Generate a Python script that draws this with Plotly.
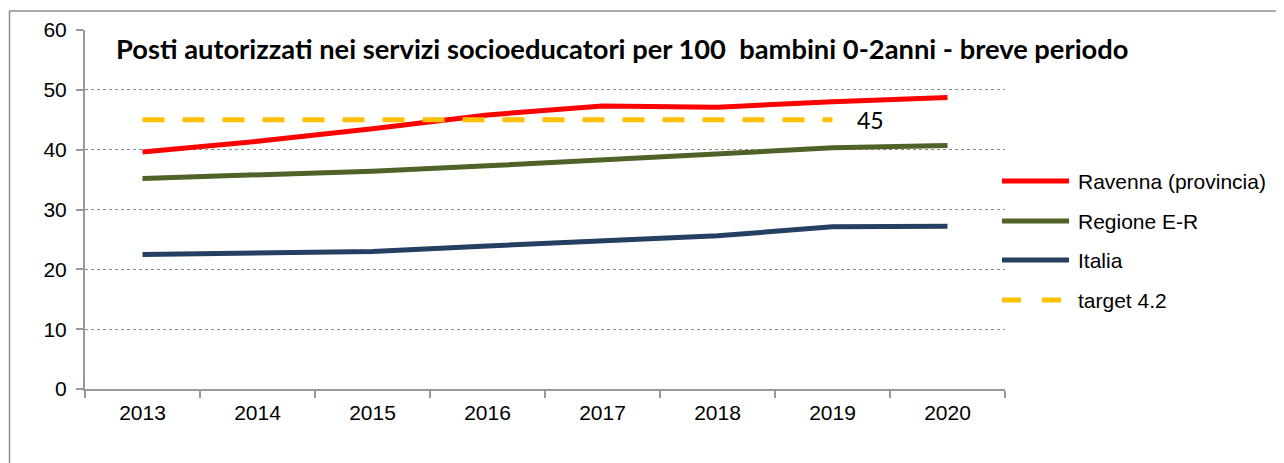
import plotly.graph_objects as go

years = ["2013", "2014", "2015", "2016", "2017", "2018", "2019", "2020"]
ravenna = [39.6, 41.4, 43.5, 45.8, 47.3, 47.1, 48.0, 48.7]
regione = [35.2, 35.7, 36.4, 37.3, 38.3, 39.5, 40.3, 40.7]
italia = [22.5, 22.7, 23.0, 23.9, 24.7, 25.6, 27.1, 27.2]
target_years = ["2013", "2014", "2015", "2016", "2017", "2018", "2019"]
target = [45, 45, 45, 45, 45, 45, 45]

names = ["Ravenna (provincia)", "Regione E-R", "Italia", "target 4.2"]
colors = ["#FF0000", "#4F6228", "#243F60", "#FFC000"]
title = "Posti autorizzati nei servizi socioeducatori per 100  bambini 0-2anni - breve periodo"

OFF = 8  # page body margin
W, H = 1284 - OFF, 463 - OFF
# plot area in screen pixels
L, R, T, B = 85, 1005, 30, 389


def px(x):
    return (x - L) / (R - L)


def py(y):
    return (B - y) / (B - T)


fig = go.Figure()
series = [ravenna, regione, italia]
for nm, vals, col in zip(names[:3], series, colors[:3]):
    fig.add_trace(go.Scatter(x=years, y=vals, name=nm, mode="lines",
                             line=dict(color=col, width=5), showlegend=False))
fig.add_trace(go.Scatter(x=target_years, y=target, name=names[3], mode="lines",
                         line=dict(color=colors[3], width=5, dash="22px,18px"),
                         showlegend=False))

# label of the target value, next to the last target point (category index)
fig.add_annotation(x=years.index(target_years[-1]), y=target[-1], xref="x", yref="y",
                   text=str(target[-1]), showarrow=False, xanchor="left",
                   xshift=22, font=dict(family="Lato", size=23, color="#000"))

fig.add_annotation(x=px(622), y=py(49), xref="paper", yref="paper", text="<b>" + title + "</b>",
                   showarrow=False, xanchor="center", yanchor="middle",
                   font=dict(family="Lato", size=27.3, color="#000"))

# manual legend
leg_y = [181, 221, 260, 300]
for i, (nm, col) in enumerate(zip(names, colors)):
    yy = py(leg_y[i])
    if i < 3:
        fig.add_shape(type="line", xref="paper", yref="paper", x0=px(1002), x1=px(1069),
                      y0=yy, y1=yy, line=dict(color=col, width=5))
    else:
        for a, b in [(1002, 1021), (1042, 1061)]:
            fig.add_shape(type="line", xref="paper", yref="paper", x0=px(a), x1=px(b),
                          y0=yy, y1=yy, line=dict(color=col, width=5))
    fig.add_annotation(x=px(1076), y=yy, xref="paper", yref="paper", text=nm,
                       showarrow=False, xanchor="left", yanchor="middle",
                       font=dict(family="Liberation Sans, Arial", size=21, color="#000"))

# outer frame (top and left edges)
fig.add_shape(type="line", xref="paper", yref="paper", x0=px(9), x1=px(1300),
              y0=py(11), y1=py(11), line=dict(color="#8c8c8c", width=1.5))
fig.add_shape(type="line", xref="paper", yref="paper", x0=px(9.5), x1=px(9.5),
              y0=py(11), y1=py(480), line=dict(color="#8c8c8c", width=1.5))

fig.update_layout(
    width=W, height=H,
    margin=dict(l=L - OFF, r=W - (R - OFF), t=T - OFF, b=H - (B - OFF), autoexpand=False),
    paper_bgcolor="white", plot_bgcolor="white",
    font=dict(family="Liberation Sans, Arial", size=21, color="#000"),
    xaxis=dict(type="category", range=[-0.5, len(years) - 0.5], tickson="boundaries",
               ticks="outside", ticklen=7, tickangle=0, automargin=False,
               ticklabelstandoff=4,
               tickcolor="#999999", tickwidth=1.5, showline=True, linecolor="#999999",
               linewidth=2, showgrid=False, tickfont=dict(size=21)),
    yaxis=dict(range=[0, 60], dtick=10, ticks="outside", ticklen=7, tickcolor="#999999",
               tickwidth=1.5, showline=True, linecolor="#999999", linewidth=2,
               automargin=False, ticklabelstandoff=5,
               showgrid=True, gridcolor="#8c8c8c", gridwidth=1, griddash="dot",
               zeroline=False, tickfont=dict(size=21)),
)

fig.write_html("out.html")
